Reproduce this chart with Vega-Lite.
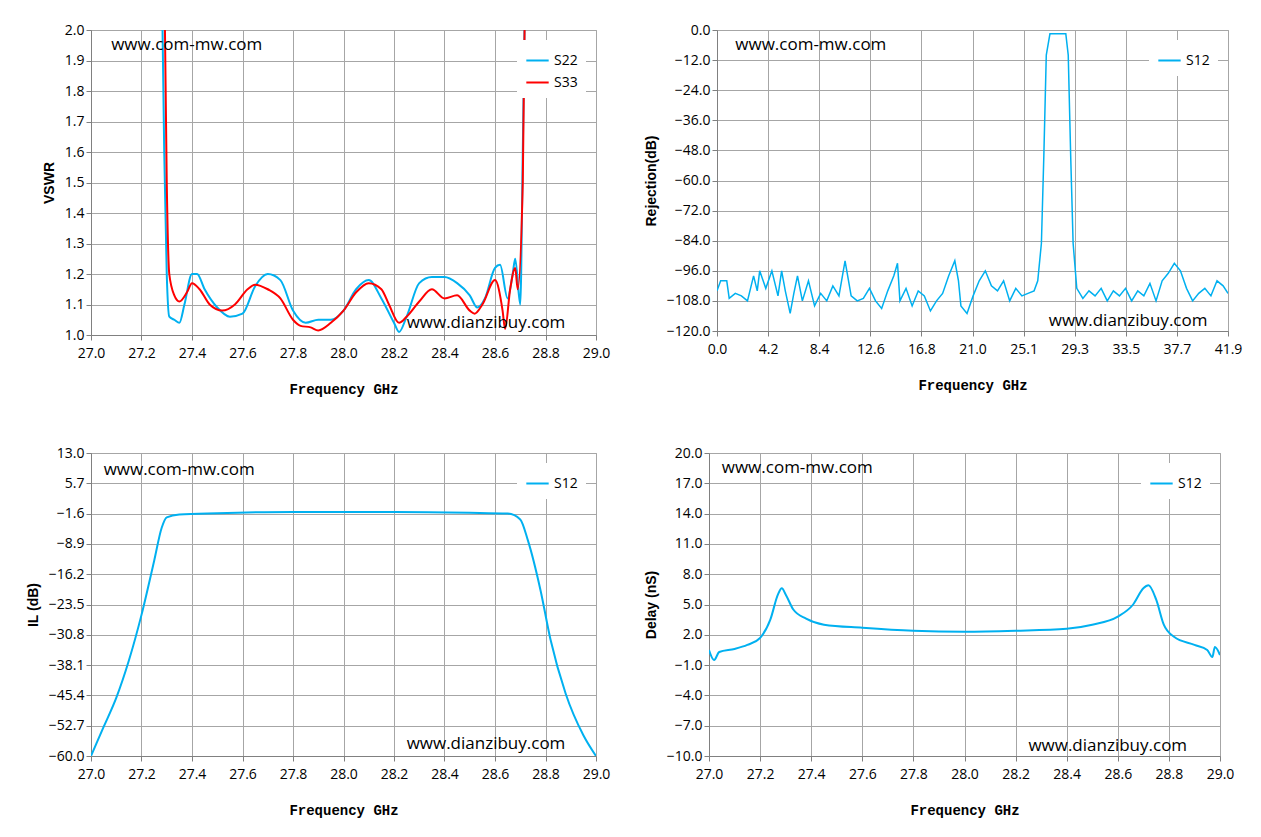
{
  "$schema": "https://vega.github.io/schema/vega-lite/v6.json",
  "background": "white",
  "padding": {"left": 25, "top": 22, "right": 25, "bottom": 5},
  "config": {
    "font": "Open Sans",
    "view": {"stroke": "#a6a6a6"},
    "axis": {
      "labelFont": "Open Sans", "labelFontSize": 14, "labelColor": "#000", "labelOverlap": false, "labelFlush": false, "tickCount": 11,
      "gridColor": "#a6a6a6", "domainColor": "#808080", "tickColor": "#808080",
      "titleColor": "#000"
    },
    "axisX": {"titleFont": "Liberation Mono", "titleFontSize": 14, "titleFontWeight": "bold", "titlePadding": 22, "labelPadding": 6},
    "axisY": {"titleFont": "Liberation Sans", "titleFontSize": 14, "titleFontWeight": "bold", "titlePadding": 8},
    "legend": {"orient": "top-right", "fillColor": "white", "padding": 8, "labelFontSize": 14, "labelFont": "Open Sans", "symbolType": "stroke", "symbolStrokeWidth": 2, "symbolSize": 500, "title": null, "offset": 10},
    "text": {"fontSize": 17, "font": "Open Sans", "align": "left"}
  },
  "spacing": 48,
  "vconcat": [
    {
      "spacing": 32,
      "hconcat": [
        {
          "width": 505, "height": 305,
          "layer": [
            {
              "data": {"values": [
                {"f":27.28,"v":2.2,"s":"S22"},{"f":27.29,"v":1.6,"s":"S22"},{"f":27.30,"v":1.2,"s":"S22"},{"f":27.31,"v":1.06,"s":"S22"},{"f":27.33,"v":1.05,"s":"S22"},{"f":27.35,"v":1.04,"s":"S22"},{"f":27.37,"v":1.1,"s":"S22"},{"f":27.4,"v":1.2,"s":"S22"},{"f":27.42,"v":1.2,"s":"S22"},{"f":27.45,"v":1.15,"s":"S22"},{"f":27.5,"v":1.09,"s":"S22"},{"f":27.55,"v":1.06,"s":"S22"},{"f":27.6,"v":1.07,"s":"S22"},{"f":27.65,"v":1.16,"s":"S22"},{"f":27.7,"v":1.2,"s":"S22"},{"f":27.75,"v":1.18,"s":"S22"},{"f":27.8,"v":1.08,"s":"S22"},{"f":27.85,"v":1.04,"s":"S22"},{"f":27.9,"v":1.05,"s":"S22"},{"f":27.95,"v":1.05,"s":"S22"},{"f":28.0,"v":1.08,"s":"S22"},{"f":28.05,"v":1.15,"s":"S22"},{"f":28.1,"v":1.18,"s":"S22"},{"f":28.15,"v":1.12,"s":"S22"},{"f":28.2,"v":1.04,"s":"S22"},{"f":28.22,"v":1.01,"s":"S22"},{"f":28.25,"v":1.06,"s":"S22"},{"f":28.3,"v":1.17,"s":"S22"},{"f":28.35,"v":1.19,"s":"S22"},{"f":28.4,"v":1.19,"s":"S22"},{"f":28.45,"v":1.17,"s":"S22"},{"f":28.5,"v":1.13,"s":"S22"},{"f":28.53,"v":1.09,"s":"S22"},{"f":28.56,"v":1.12,"s":"S22"},{"f":28.6,"v":1.22,"s":"S22"},{"f":28.62,"v":1.23,"s":"S22"},{"f":28.65,"v":1.12,"s":"S22"},{"f":28.67,"v":1.2,"s":"S22"},{"f":28.68,"v":1.25,"s":"S22"},{"f":28.70,"v":1.1,"s":"S22"},{"f":28.71,"v":1.6,"s":"S22"},{"f":28.72,"v":2.2,"s":"S22"},
                {"f":27.29,"v":2.2,"s":"S33"},{"f":27.30,"v":1.5,"s":"S33"},{"f":27.31,"v":1.2,"s":"S33"},{"f":27.33,"v":1.13,"s":"S33"},{"f":27.35,"v":1.11,"s":"S33"},{"f":27.38,"v":1.14,"s":"S33"},{"f":27.4,"v":1.17,"s":"S33"},{"f":27.43,"v":1.15,"s":"S33"},{"f":27.47,"v":1.1,"s":"S33"},{"f":27.52,"v":1.08,"s":"S33"},{"f":27.57,"v":1.1,"s":"S33"},{"f":27.62,"v":1.15,"s":"S33"},{"f":27.65,"v":1.165,"s":"S33"},{"f":27.7,"v":1.15,"s":"S33"},{"f":27.75,"v":1.12,"s":"S33"},{"f":27.8,"v":1.05,"s":"S33"},{"f":27.83,"v":1.03,"s":"S33"},{"f":27.87,"v":1.025,"s":"S33"},{"f":27.9,"v":1.015,"s":"S33"},{"f":27.95,"v":1.04,"s":"S33"},{"f":28.0,"v":1.08,"s":"S33"},{"f":28.05,"v":1.14,"s":"S33"},{"f":28.1,"v":1.17,"s":"S33"},{"f":28.15,"v":1.15,"s":"S33"},{"f":28.18,"v":1.1,"s":"S33"},{"f":28.22,"v":1.04,"s":"S33"},{"f":28.25,"v":1.06,"s":"S33"},{"f":28.3,"v":1.11,"s":"S33"},{"f":28.35,"v":1.15,"s":"S33"},{"f":28.4,"v":1.12,"s":"S33"},{"f":28.45,"v":1.13,"s":"S33"},{"f":28.5,"v":1.08,"s":"S33"},{"f":28.52,"v":1.07,"s":"S33"},{"f":28.55,"v":1.1,"s":"S33"},{"f":28.6,"v":1.18,"s":"S33"},{"f":28.63,"v":1.08,"s":"S33"},{"f":28.64,"v":1.02,"s":"S33"},{"f":28.66,"v":1.15,"s":"S33"},{"f":28.68,"v":1.22,"s":"S33"},{"f":28.69,"v":1.15,"s":"S33"},{"f":28.71,"v":1.5,"s":"S33"},{"f":28.72,"v":2.2,"s":"S33"}
              ]},
              "mark": {"type": "line", "clip": true, "strokeWidth": 2, "interpolate": "monotone"},
              "encoding": {
                "x": {"field": "f", "type": "quantitative", "title": "Frequency GHz", "scale": {"domain": [27, 29]}, "axis": {"values": [27,27.2,27.4,27.6,27.8,28,28.2,28.4,28.6,28.8,29], "format": ".1f"}},
                "y": {"field": "v", "type": "quantitative", "title": "VSWR", "scale": {"domain": [1, 2]}, "axis": {"values": [1,1.1,1.2,1.3,1.4,1.5,1.6,1.7,1.8,1.9,2], "format": ".1f"}},
                "color": {"field": "s", "type": "nominal", "scale": {"domain": ["S22","S33"], "range": ["#00b0f0","#ff0000"]}}
              }
            },
            {"data": {"values": [{}]}, "mark": {"type": "text"}, "encoding": {"x": {"datum": 27.08}, "y": {"datum": 1.95}, "text": {"value": "www.com-mw.com"}}},
            {"data": {"values": [{}]}, "mark": {"type": "text"}, "encoding": {"x": {"datum": 28.25}, "y": {"datum": 1.04}, "text": {"value": "www.dianzibuy.com"}}}
          ]
        },
        {
          "width": 511, "height": 301,
          "layer": [
            {
              "data": {"values": [
                {"f":0,"v":-104},{"f":0.3,"v":-100},{"f":0.8,"v":-100},{"f":1,"v":-107},{"f":1.5,"v":-105},{"f":2,"v":-106},{"f":2.5,"v":-108},{"f":3,"v":-98},{"f":3.3,"v":-104},{"f":3.5,"v":-96},{"f":4,"v":-103},{"f":4.5,"v":-96},{"f":5,"v":-106},{"f":5.3,"v":-96},{"f":5.6,"v":-104},{"f":6,"v":-113},{"f":6.3,"v":-105},{"f":6.6,"v":-98},{"f":7,"v":-108},{"f":7.5,"v":-100},{"f":8,"v":-110},{"f":8.5,"v":-105},{"f":9,"v":-108},{"f":9.5,"v":-102},{"f":10,"v":-106},{"f":10.5,"v":-92},{"f":11,"v":-106},{"f":11.5,"v":-108},{"f":12,"v":-107},{"f":12.5,"v":-103},{"f":13,"v":-108},{"f":13.5,"v":-111},{"f":14,"v":-104},{"f":14.5,"v":-98},{"f":14.8,"v":-93},{"f":15,"v":-108},{"f":15.5,"v":-103},{"f":16,"v":-110},{"f":16.5,"v":-104},{"f":17,"v":-106},{"f":17.5,"v":-112},{"f":18,"v":-108},{"f":18.5,"v":-105},{"f":19,"v":-98},{"f":19.5,"v":-92},{"f":19.8,"v":-100},{"f":20,"v":-110},{"f":20.5,"v":-113},{"f":21,"v":-106},{"f":21.5,"v":-100},{"f":22,"v":-96},{"f":22.5,"v":-102},{"f":23,"v":-104},{"f":23.5,"v":-100},{"f":24,"v":-108},{"f":24.5,"v":-103},{"f":25,"v":-106},{"f":25.5,"v":-105},{"f":26,"v":-104},{"f":26.3,"v":-100},{"f":26.6,"v":-85},{"f":26.8,"v":-50},{"f":27.0,"v":-10},{"f":27.3,"v":-1.5},{"f":28.6,"v":-1.5},{"f":28.8,"v":-10},{"f":29.0,"v":-50},{"f":29.2,"v":-85},{"f":29.5,"v":-103},{"f":30,"v":-107},{"f":30.5,"v":-104},{"f":31,"v":-106},{"f":31.5,"v":-103},{"f":32,"v":-108},{"f":32.5,"v":-104},{"f":33,"v":-106},{"f":33.5,"v":-103},{"f":34,"v":-108},{"f":34.5,"v":-104},{"f":35,"v":-106},{"f":35.5,"v":-101},{"f":36,"v":-108},{"f":36.5,"v":-100},{"f":37,"v":-97},{"f":37.5,"v":-93},{"f":38,"v":-96},{"f":38.5,"v":-103},{"f":39,"v":-108},{"f":39.5,"v":-105},{"f":40,"v":-103},{"f":40.5,"v":-106},{"f":41,"v":-100},{"f":41.5,"v":-102},{"f":41.9,"v":-105}
              ]},
              "mark": {"type": "line", "clip": true, "strokeWidth": 1.5, "color": "#00b0f0"},
              "encoding": {
                "x": {"field": "f", "type": "quantitative", "title": "Frequency GHz", "scale": {"domain": [0, 41.9], "nice": false}, "axis": {"values": [0,4.19,8.38,12.57,16.76,20.951,25.14,29.33,33.52,37.71,41.9], "format": ".1f"}},
                "y": {"field": "v", "type": "quantitative", "title": "Rejection(dB)", "scale": {"domain": [-120, 0]}, "axis": {"values": [-120,-108,-96,-84,-72,-60,-48,-36,-24,-12,0], "format": ".1f"}},
                "color": {"datum": "S12", "type": "nominal", "scale": {"range": ["#00b0f0"]}}
              }
            },
            {"data": {"values": [{}]}, "mark": {"type": "text"}, "encoding": {"x": {"datum": 1.5}, "y": {"datum": -6}, "text": {"value": "www.com-mw.com"}}},
            {"data": {"values": [{}]}, "mark": {"type": "text"}, "encoding": {"x": {"datum": 27.2}, "y": {"datum": -116}, "text": {"value": "www.dianzibuy.com"}}}
          ]
        }
      ],
      "resolve": {"scale": {"color": "independent", "x": "independent", "y": "independent"}}
    },
    {
      "spacing": 32,
      "hconcat": [
        {
          "width": 505, "height": 303,
          "layer": [
            {
              "data": {"values": [
                {"f":27.0,"v":-60},{"f":27.05,"v":-53},{"f":27.1,"v":-46},{"f":27.15,"v":-37},{"f":27.2,"v":-26},{"f":27.25,"v":-13},{"f":27.28,"v":-5},{"f":27.3,"v":-2.5},{"f":27.35,"v":-1.8},{"f":27.5,"v":-1.5},{"f":27.8,"v":-1.2},{"f":28.2,"v":-1.2},{"f":28.5,"v":-1.4},{"f":28.65,"v":-1.6},{"f":28.7,"v":-3},{"f":28.73,"v":-8},{"f":28.78,"v":-20},{"f":28.82,"v":-32},{"f":28.88,"v":-45},{"f":28.95,"v":-55},{"f":29.0,"v":-60}
              ]},
              "mark": {"type": "line", "clip": true, "strokeWidth": 2, "interpolate": "monotone"},
              "encoding": {
                "x": {"field": "f", "type": "quantitative", "title": "Frequency GHz", "scale": {"domain": [27, 29]}, "axis": {"values": [27,27.2,27.4,27.6,27.8,28,28.2,28.4,28.6,28.8,29], "format": ".1f"}},
                "y": {"field": "v", "type": "quantitative", "title": "IL (dB)", "scale": {"domain": [-60, 13], "nice": false}, "axis": {"values": [-60,-52.7,-45.4,-38.1,-30.8,-23.5,-16.2,-8.9,-1.6,5.7,13], "format": ".1f"}},
                "color": {"datum": "S12", "type": "nominal", "scale": {"range": ["#00b0f0"]}}
              }
            },
            {"data": {"values": [{}]}, "mark": {"type": "text"}, "encoding": {"x": {"datum": 27.05}, "y": {"datum": 9}, "text": {"value": "www.com-mw.com"}}},
            {"data": {"values": [{}]}, "mark": {"type": "text"}, "encoding": {"x": {"datum": 28.25}, "y": {"datum": -57}, "text": {"value": "www.dianzibuy.com"}}}
          ]
        },
        {
          "width": 511, "height": 303,
          "layer": [
            {
              "data": {"values": [
                {"f":27.0,"v":0.5},{"f":27.02,"v":-0.5},{"f":27.04,"v":0.3},{"f":27.1,"v":0.6},{"f":27.15,"v":1.0},{"f":27.2,"v":1.7},{"f":27.24,"v":3.5},{"f":27.27,"v":6.0},{"f":27.285,"v":6.6},{"f":27.3,"v":6.0},{"f":27.33,"v":4.5},{"f":27.38,"v":3.6},{"f":27.45,"v":3.0},{"f":27.6,"v":2.7},{"f":27.8,"v":2.4},{"f":28.0,"v":2.3},{"f":28.2,"v":2.4},{"f":28.4,"v":2.6},{"f":28.5,"v":3.0},{"f":28.6,"v":3.8},{"f":28.66,"v":5.0},{"f":28.7,"v":6.6},{"f":28.72,"v":6.9},{"f":28.75,"v":5.5},{"f":28.78,"v":3.0},{"f":28.82,"v":1.8},{"f":28.9,"v":1.0},{"f":28.95,"v":0.5},{"f":28.97,"v":-0.2},{"f":28.98,"v":0.8},{"f":29.0,"v":0}
              ]},
              "mark": {"type": "line", "clip": true, "strokeWidth": 2, "interpolate": "monotone"},
              "encoding": {
                "x": {"field": "f", "type": "quantitative", "title": "Frequency GHz", "scale": {"domain": [27, 29]}, "axis": {"values": [27,27.2,27.4,27.6,27.8,28,28.2,28.4,28.6,28.8,29], "format": ".1f"}},
                "y": {"field": "v", "type": "quantitative", "title": "Delay (nS)", "scale": {"domain": [-10, 20]}, "axis": {"values": [-10,-7,-4,-1,2,5,8,11,14,17,20], "format": ".1f"}},
                "color": {"datum": "S12", "type": "nominal", "scale": {"range": ["#00b0f0"]}}
              }
            },
            {"data": {"values": [{}]}, "mark": {"type": "text"}, "encoding": {"x": {"datum": 27.05}, "y": {"datum": 18.5}, "text": {"value": "www.com-mw.com"}}},
            {"data": {"values": [{}]}, "mark": {"type": "text"}, "encoding": {"x": {"datum": 28.25}, "y": {"datum": -9}, "text": {"value": "www.dianzibuy.com"}}}
          ]
        }
      ],
      "resolve": {"scale": {"color": "independent", "x": "independent", "y": "independent"}}
    }
  ],
  "resolve": {"scale": {"color": "independent", "x": "independent", "y": "independent"}}
}
